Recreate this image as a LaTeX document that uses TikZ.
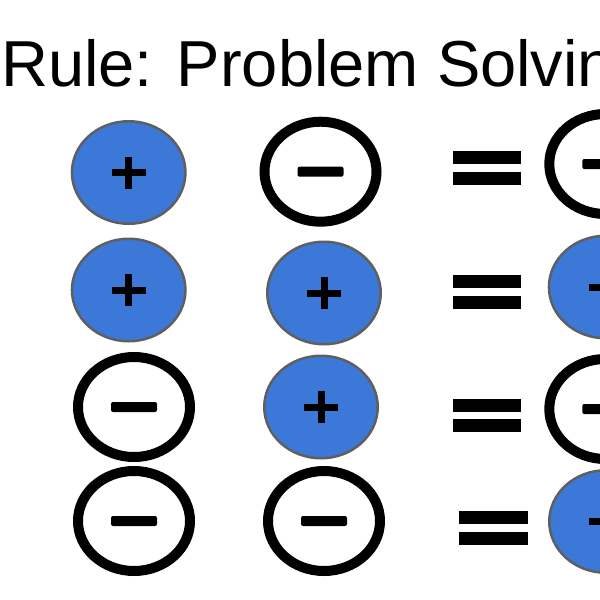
\documentclass[tikz,border=0pt]{standalone}
\usepackage{fontspec}
\setmainfont{Liberation Sans}
\usetikzlibrary{shapes.geometric}
\definecolor{ionblue}{RGB}{60,120,216}
\definecolor{iongray}{RGB}{95,95,95}
\newcommand\myplus[1]{%
  \draw[plusbar] ([xshift=-17pt]#1.center) -- ([xshift=17pt]#1.center);
  \draw[plusbar] ([yshift=-16pt]#1.center) -- ([yshift=16pt]#1.center);}
\newcommand\myminus[1]{%
  \fill[minusbar] ([xshift=-23pt,yshift=-5pt]#1.center) rectangle ([xshift=23pt,yshift=5pt]#1.center);}
\newcommand\myequals[1]{%
  \fill (#1.north west) rectangle ([yshift=-13pt]#1.north east);
  \fill ([yshift=13pt]#1.south west) rectangle (#1.south east);}
\begin{document}
\begin{tikzpicture}[x=1pt,y=-1pt,
  posion/.style={ellipse, fill=ionblue, draw=iongray, line width=2.5pt,
    minimum width=113.5pt, minimum height=102.5pt, inner sep=0pt},
  negion/.style={ellipse, fill=white, draw=black, line width=10pt,
    minimum width=112pt, minimum height=100pt, inner sep=0pt},
  plusbar/.style={line width=7pt, black},
  minusbar/.style={black, rounded corners=2pt},
  eqnode/.style={minimum width=68pt, minimum height=33pt, inner sep=0pt}]
\useasboundingbox (0,0) rectangle (600,600);
\clip (0,0) rectangle (600,600);
\fill[white] (0,0) rectangle (600,600);
\node[anchor=base west, inner sep=0pt, font=\fontsize{65}{78}\selectfont] (title) at (1,86.7) {Rule: Problem Solvin};
% row 1
\node[posion] (r1c1) at (128.7,172.5) {};
\node[negion] (r1c2) at (320.5,171.7) {};
\node[eqnode] (eq1) at (487,168) {};
\node[negion] (r1c3) at (605.3,164) {};
% row 2
\node[posion] (r2c1) at (128.7,290) {};
\node[posion] (r2c2) at (324,293) {};
\node[eqnode] (eq2) at (487,292) {};
\node[posion] (r2c3) at (605.7,287) {};
% row 3
\node[negion] (r3c1) at (134,407) {};
\node[posion] (r3c2) at (321,407) {};
\node[eqnode] (eq3) at (487,415.5) {};
\node[negion] (r3c3) at (605.3,409) {};
% row 4
\node[negion] (r4c1) at (134,521) {};
\node[negion] (r4c2) at (324,521) {};
\node[eqnode] (eq4) at (493.5,528) {};
\node[posion] (r4c3) at (606,521.5) {};
% signs
\myplus{r1c1}\myminus{r1c2}\myminus{r1c3}
\myplus{r2c1}\myplus{r2c2}\myplus{r2c3}
\myminus{r3c1}\myplus{r3c2}\myminus{r3c3}
\myminus{r4c1}\myminus{r4c2}\myplus{r4c3}
\myequals{eq1}\myequals{eq2}\myequals{eq3}\myequals{eq4}
\end{tikzpicture}
\end{document}
